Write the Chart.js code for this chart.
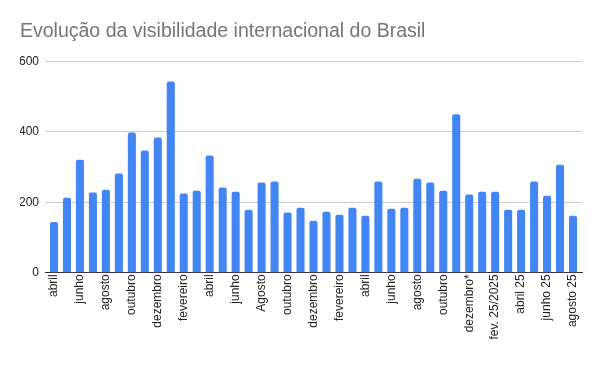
<!DOCTYPE html>
<html>
<head>
<meta charset="utf-8">
<script src="https://cdn.jsdelivr.net/npm/chart.js@4/dist/chart.umd.min.js"></script>
<style>
  html, body { margin: 0; padding: 0; background: #fff; }
  #wrap { width: 600px; height: 371px; }
</style>
</head>
<body>
<div id="wrap"><canvas id="chart" width="600" height="371"></canvas></div>
<script>
const months = [
  'abril', 'maio', 'junho', 'julho', 'agosto', 'setembro', 'outubro', 'novembro',
  'dezembro', 'janeiro', 'fevereiro', 'março', 'abril', 'maio', 'junho', 'julho',
  'Agosto', 'setembro', 'outubro', 'novembro', 'dezembro', 'janeiro', 'fevereiro',
  'março', 'abril', 'maio', 'junho', 'julho', 'agosto', 'setembro', 'outubro',
  'novembro', 'dezembro*', 'janeiro 25', 'fev. 25/2025', 'março 25', 'abril 25',
  'maio 25', 'junho 25', 'julho 25', 'agosto 25'
];

const visibility = [
  144, 213, 321, 228, 236, 282, 398, 347, 384, 543,
  225, 233, 333, 242, 230, 179, 256, 259, 171, 185,
  148, 173, 165, 185, 162, 259, 182, 185, 267, 256,
  233, 450, 222, 230, 230, 179, 179, 259, 219, 307,
  162
];

const yTicks = [0, 200, 400, 600];

const FONT = 'Arial, "Liberation Sans", sans-serif';

// bars sit a bit in from the ends of the gridlines
const insetBars = {
  id: 'insetBars',
  beforeDatasetsUpdate(chart) {
    const x = chart.scales.x;
    x._startPixel += 2.5;
    x._length -= 5;
  }
};

new Chart(document.getElementById('chart'), {
  type: 'bar',
  data: {
    labels: months,
    datasets: [{
      data: visibility,
      backgroundColor: '#4285f4',
      borderRadius: { topLeft: 2, topRight: 2 },
      borderSkipped: 'bottom',
      barPercentage: 0.62,
      categoryPercentage: 1
    }]
  },
  options: {
    responsive: false,
    animation: false,
    layout: { padding: { left: 20, right: 18, top: 8, bottom: 30 } },
    plugins: {
      legend: { display: false },
      tooltip: { enabled: false },
      title: {
        display: true,
        text: 'Evolução da visibilidade internacional do Brasil',
        align: 'start',
        color: '#757575',
        font: { family: FONT, size: 19.5, weight: 'normal' },
        padding: { top: 12, bottom: 18 }
      }
    },
    scales: {
      x: {
        grid: { display: false, drawTicks: false, tickLength: 0 },
        border: { display: true, color: '#333', width: 1 },
        ticks: {
          autoSkip: false,
          maxRotation: 90,
          minRotation: 90,
          color: '#222',
          font: { family: FONT, size: 12 },
          padding: 1.5,
          callback: (v, i) => (i % 2 === 0 ? months[i] : '')
        }
      },
      y: {
        min: 0,
        max: 600,
        afterBuildTicks: axis => { axis.ticks = yTicks.map(v => ({ value: v })); },
        afterFit: axis => { axis.width = 25; },
        grid: { color: '#cccccc', drawTicks: false },
        border: { display: false },
        ticks: {
          color: '#222',
          font: { family: FONT, size: 12 },
          padding: 6
        }
      }
    }
  },
  plugins: [insetBars]
});
</script>
</body>
</html>
